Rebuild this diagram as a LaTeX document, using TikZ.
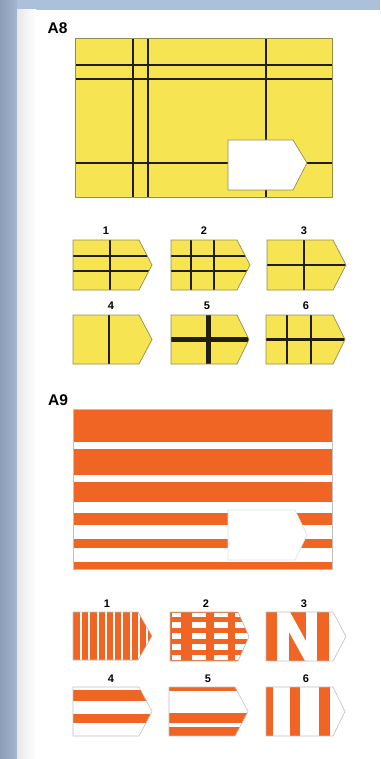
\documentclass[tikz,border=0pt]{standalone}
\usepackage{fontspec}
\setmainfont{Liberation Sans}
\definecolor{yel}{RGB}{246,228,82}
\definecolor{org}{RGB}{240,100,36}
\definecolor{lineblk}{RGB}{32,30,16}
\definecolor{olive}{RGB}{150,140,80}
\definecolor{bluetop}{RGB}{172,192,220}
\definecolor{blueL}{RGB}{140,158,184}
\definecolor{blueR}{RGB}{162,182,208}
\newcommand{\pent}[5]{(#1,#2) -- ++(#3,0) -- ++(#4,#5/2) -- ++(-#4,#5/2) -- ++(-#3,0) -- cycle}
\begin{document}
\begin{tikzpicture}[x=1pt,y=-1pt,
  bl/.style={line width=2.6pt, color=lineblk},
  blthick/.style={line width=5pt, color=lineblk},
  edgeY/.style={draw=olive, line width=0.7pt},
  edgeO/.style={draw=black!25, line width=0.6pt},
  lab/.style={font=\bfseries\fontsize{11}{11}\selectfont, inner sep=0pt},
  ttl/.style={font=\bfseries\fontsize{15.5}{15.5}\selectfont, inner sep=0pt}]
\useasboundingbox (0,0) rectangle (380,759);
% background
\fill[bluetop] (0,0) rectangle (380,10);
\fill[left color=blueL, right color=blueR] (0,0) rectangle (17,759);
\fill[white] (17,10) rectangle (380,759);
\fill[left color=black!9, right color=white] (17,10) rectangle (36,759);

% ===== A8 =====
\node[ttl] (a8) at (57.5,28) {A8};
\fill[yel] (75,38) rectangle (332,197);
\begin{scope}
\clip (75,38) rectangle (332,197);
\draw[bl] (133,38) -- (133,197);
\draw[bl] (148,38) -- (148,197);
\draw[bl] (266,38) -- (266,197);
\draw[bl] (75,65) -- (332,65);
\draw[bl] (75,79) -- (332,79);
\draw[bl] (75,163) -- (332,163);
\end{scope}
\draw[edgeY] (75,38) rectangle (332,197);
\filldraw[fill=white, edgeY] (228,140) -- (293,140) -- (307,163) -- (293,190) -- (228,190) -- cycle;

% A8 options
\node[lab] (o81) at (106,230.5) {1};
\node[lab] (o82) at (204,230.5) {2};
\node[lab] (o83) at (304,230.5) {3};
\node[lab] (o84) at (111,306) {4};
\node[lab] (o85) at (207,306) {5};
\node[lab] (o86) at (306,306) {6};

\begin{scope}[shift={(73,240)}]
\fill[yel] \pent{0}{0}{66}{13}{50};
\begin{scope}\clip \pent{0}{0}{66}{13}{50};
\draw[bl] (37,0) -- (37,50); \draw[bl] (0,16) -- (79,16); \draw[bl] (0,31) -- (79,31);
\end{scope}
\draw[edgeY] \pent{0}{0}{66}{13}{50};
\end{scope}

\begin{scope}[shift={(171,240)}]
\fill[yel] \pent{0}{0}{66}{13}{50};
\begin{scope}\clip \pent{0}{0}{66}{13}{50};
\draw[bl] (20,0) -- (20,50); \draw[bl] (43,0) -- (43,50);
\draw[bl] (0,16) -- (79,16); \draw[bl] (0,31) -- (79,31);
\end{scope}
\draw[edgeY] \pent{0}{0}{66}{13}{50};
\end{scope}

\begin{scope}[shift={(267,240)}]
\fill[yel] \pent{0}{0}{66}{13}{50};
\begin{scope}\clip \pent{0}{0}{66}{13}{50};
\draw[bl] (37,0) -- (37,50); \draw[bl] (0,25) -- (79,25);
\end{scope}
\draw[edgeY] \pent{0}{0}{66}{13}{50};
\end{scope}

\begin{scope}[shift={(73,315)}]
\fill[yel] \pent{0}{0}{66}{13}{49};
\begin{scope}\clip \pent{0}{0}{66}{13}{49};
\draw[bl] (36,0) -- (36,49);
\end{scope}
\draw[edgeY] \pent{0}{0}{66}{13}{49};
\end{scope}

\begin{scope}[shift={(171,315)}]
\fill[yel] \pent{0}{0}{66}{12}{49};
\begin{scope}\clip \pent{0}{0}{66}{12}{49};
\draw[blthick] (37,0) -- (37,49); \draw[blthick] (0,24.5) -- (78,24.5);
\end{scope}
\draw[edgeY] \pent{0}{0}{66}{12}{49};
\end{scope}

\begin{scope}[shift={(266,315)}]
\fill[yel] \pent{0}{0}{67}{12}{49};
\begin{scope}\clip \pent{0}{0}{67}{12}{49};
\draw[bl] (21,0) -- (21,49); \draw[bl] (45,0) -- (45,49);
\draw[bl] (0,24.5) -- (79,24.5);
\end{scope}
\draw[edgeY] \pent{0}{0}{67}{12}{49};
\end{scope}

% ===== A9 =====
\node[ttl] (a9) at (58,400.5) {A9};
\fill[white] (73,409) rectangle (332,569);
\fill[org] (73,409) rectangle (332,442);
\fill[org] (73,449) rectangle (332,475);
\fill[org] (73,482) rectangle (332,502);
\fill[org] (73,513) rectangle (332,525);
\fill[org] (73,539) rectangle (332,548);
\fill[org] (73,562) rectangle (332,569);
\draw[edgeO] (73,409) rectangle (332,569);
\filldraw[fill=white, draw=black!12, line width=0.6pt] (228,510) -- (295,510) -- (307,535) -- (295,560) -- (228,560) -- cycle;

% A9 options
\node[lab] (o91) at (107,603.5) {1};
\node[lab] (o92) at (206,603.5) {2};
\node[lab] (o93) at (304,603.5) {3};
\node[lab] (o94) at (111,678.5) {4};
\node[lab] (o95) at (208,678.5) {5};
\node[lab] (o96) at (306,678.5) {6};

% option 1: vertical white lines on orange
\begin{scope}[shift={(73,612)}]
\fill[org] \pent{0}{0}{65}{14}{48};
\begin{scope}\clip \pent{0}{0}{65}{14}{48};
\foreach \k in {0,...,8}{\fill[white] ({7+8.25*\k},0) rectangle ({9.2+8.25*\k},48);}
\end{scope}
\draw[edgeO] \pent{0}{0}{65}{14}{48};
\end{scope}

% option 2: grid
\begin{scope}[shift={(170,612)}]
\fill[org] \pent{0}{0}{68}{11}{49};
\begin{scope}\clip \pent{0}{0}{68}{11}{49};
\foreach \ca/\cb in {2/11, 22/36, 44/58, 65/80}{
  \foreach \ra/\rb in {1/5, 10/16, 21/27, 32/38, 43/48}{
    \fill[white] (\ca,\ra) rectangle (\cb,\rb);}}
\end{scope}
\draw[edgeO] \pent{0}{0}{68}{11}{49};
\end{scope}

% option 3: stripes with N
\begin{scope}[shift={(266,612)}]
\fill[white] \pent{0}{0}{67}{13}{49};
\begin{scope}\clip \pent{0}{0}{67}{13}{49};
\fill[org] (0,0) rectangle (11,49);
\fill[org] (23,0) rectangle (40,49);
\fill[org] (51,0) rectangle (63,49);
\fill[white] (12,0) -- (24,0) -- (51,49) -- (39,49) -- cycle;
\end{scope}
\draw[edgeO] \pent{0}{0}{67}{13}{49};
\end{scope}

% option 4
\begin{scope}[shift={(73,687)}]
\fill[white] \pent{0}{0}{66}{13}{49};
\begin{scope}\clip \pent{0}{0}{66}{13}{49};
\fill[org] (0,3) rectangle (79,14);
\fill[org] (0,27) rectangle (79,36);
\end{scope}
\draw[edgeO] \pent{0}{0}{66}{13}{49};
\end{scope}

% option 5
\begin{scope}[shift={(169,687)}]
\fill[white] \pent{0}{0}{66}{13}{49};
\begin{scope}\clip \pent{0}{0}{66}{13}{49};
\fill[org] (0,0) rectangle (79,4);
\fill[org] (0,26) rectangle (79,36);
\fill[org] (0,40) rectangle (79,49);
\end{scope}
\draw[edgeO] \pent{0}{0}{66}{13}{49};
\end{scope}

% option 6
\begin{scope}[shift={(266,687)}]
\fill[white] \pent{0}{0}{67}{12}{49};
\begin{scope}\clip \pent{0}{0}{67}{12}{49};
\fill[org] (0,0) rectangle (7,49);
\fill[org] (24,0) rectangle (34,49);
\fill[org] (53,0) rectangle (64,49);
\end{scope}
\draw[edgeO] \pent{0}{0}{67}{12}{49};
\end{scope}
\end{tikzpicture}
\end{document}
